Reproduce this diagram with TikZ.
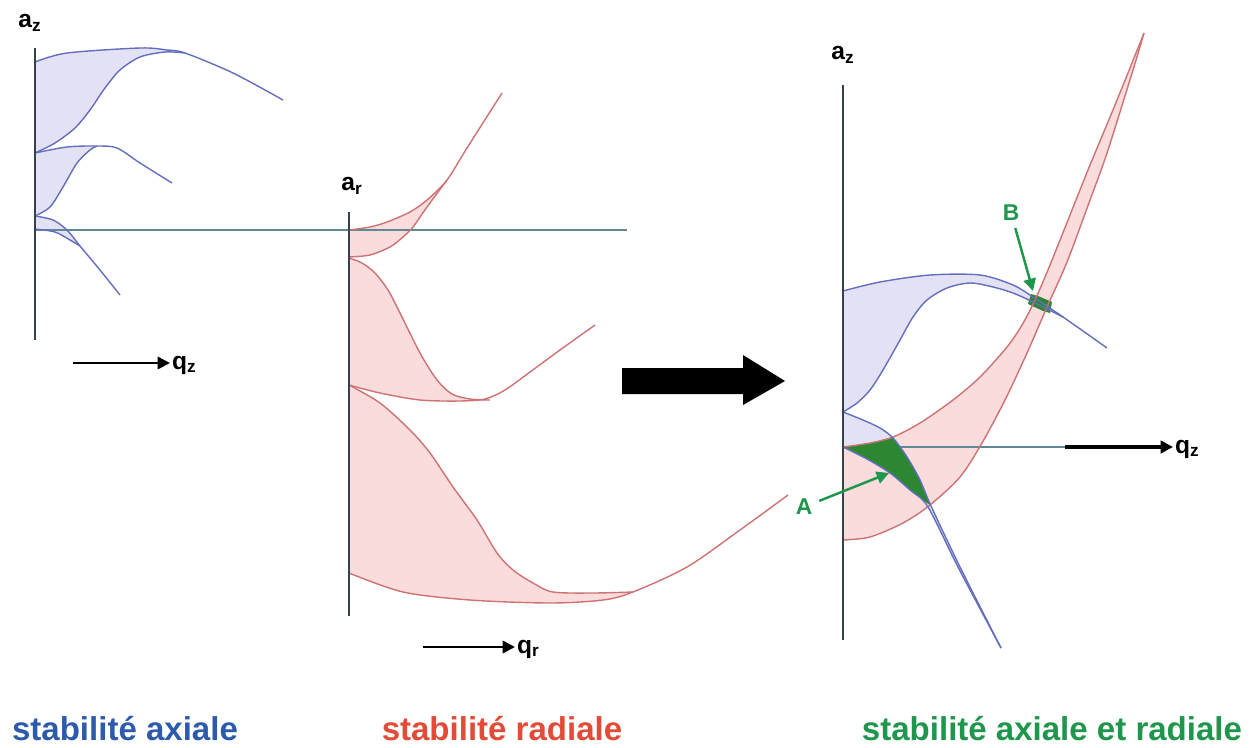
\documentclass[tikz,border=0pt]{standalone}
\usepackage{fontspec}
\setsansfont{Liberation Sans}
\usetikzlibrary{arrows.meta, positioning}
\definecolor{axisgrey}{RGB}{55,65,75}
\definecolor{hline}{RGB}{95,135,150}
\definecolor{axblue}{RGB}{100,110,190}
\definecolor{axbluefill}{RGB}{226,226,244}
\definecolor{radred}{RGB}{205,115,115}
\definecolor{radfill}{RGB}{250,220,220}
\definecolor{bothgreen}{RGB}{45,135,50}
\definecolor{labgreen}{RGB}{30,150,75}
\definecolor{txtblue}{RGB}{45,90,170}
\definecolor{txtred}{RGB}{225,75,55}

\begin{document}
\begin{tikzpicture}[x=0.02cm, y=-0.02cm,
  axisline/.style={draw=axisgrey, line width=1pt},
  zline/.style={draw=hline, line width=0.8pt},
  bcurve/.style={draw=axblue, line width=0.8pt},
  rcurve/.style={draw=radred, line width=0.8pt},
  bfill/.style={fill=axbluefill},
  rfill/.style={fill=radfill},
  bothfill/.style={fill=bothgreen},
  qarrow/.style={-{Triangle[length=7pt,width=7pt]}, line width=1.4pt},
  axlabel/.style={font=\sffamily\bfseries\fontsize{14}{16}\selectfont, inner sep=1pt},
  qlabel/.style={font=\sffamily\bfseries\fontsize{14}{16}\selectfont, inner sep=1pt, anchor=base west},
  caption/.style={font=\sffamily\bfseries\fontsize{18.8}{22}\selectfont, anchor=base},
  ptlabel/.style={text=labgreen, font=\sffamily\bfseries\fontsize{13}{15}\selectfont, inner sep=1pt},
  ptarrow/.style={draw=labgreen, line width=1.4pt, -{Triangle[length=7pt,width=7pt]}, shorten <=3pt}
]
\useasboundingbox (0,0) rectangle (1260,747);

\fill[bfill] plot[smooth] coordinates {(35,62) (67,53) (140,48) (167,50) (185,53)}
  -- plot[smooth] coordinates {(185,53) (165,52) (140,57) (120,70) (105,88) (90,110) (75,128) (55,143) (35,153)} -- cycle;
\fill[bfill] plot[smooth] coordinates {(35,153) (67,147) (97,146)}
  -- plot[smooth] coordinates {(97,146) (90,150) (77,163) (63,187) (50,207) (35,216)} -- cycle;
\fill[bfill] plot[smooth] coordinates {(35,216) (53,220) (67,230) (80,246)}
  -- plot[smooth] coordinates {(80,246) (70,240) (55,232) (35,229)} -- cycle;

\fill[rfill] plot[smooth] coordinates {(349,230) (370,227) (387,222) (410,212) (427,200) (447,180)}
  -- plot[smooth] coordinates {(447,180) (427,207) (413,227) (403,237) (390,247) (370,255) (349,257)} -- cycle;
\fill[rfill] plot[smooth] coordinates {(349,258) (362,263) (375,273) (388,290) (400,313) (420,353) (437,380) (452,394) (470,399) (490,400)}
  -- plot[smooth] coordinates {(490,400) (460,401) (420,400) (380,393) (349,385)} -- cycle;
\fill[rfill] plot[smooth] coordinates {(349,385) (380,403) (410,430) (430,453) (453,487) (477,520) (497,553) (513,570) (533,583) (553,592) (593,593) (633,592)}
  -- plot[smooth] coordinates {(633,592) (603,600) (550,603) (470,600) (403,592) (349,573)} -- cycle;

\fill[bfill] plot[smooth] coordinates {(843,291) (880,282) (930,275) (980,275) (1013,285) (1033,297) (1063,317)}
  -- plot[smooth] coordinates {(1063,317) (1033,302) (1013,293) (993,287) (970,283) (947,288) (927,300) (913,317) (900,340) (883,370) (870,390) (857,403) (843,412)} -- cycle;
\fill[bfill] plot[smooth] coordinates {(843,412) (863,420) (880,428) (893,438) (907,457) (920,480) (931,506) (960,567) (1001,648)}
  -- plot[smooth] coordinates {(1001,648) (958,567) (928,507) (910,490) (890,473) (867,459) (843,447)} -- cycle;
\fill[rfill] plot[smooth] coordinates {(843,447) (870,443) (893,437) (920,423) (953,400) (980,377) (1007,347) (1022,325) (1035,300) (1050,265) (1070,215) (1090,165) (1115,105) (1144,33)}
  -- plot[smooth] coordinates {(1144,33) (1133,70) (1107,153) (1090,200) (1067,262) (1047,307) (1027,353) (1005,400) (982,443) (960,477) (930,505) (903,523) (870,537) (843,540)} -- cycle;

\coordinate (orL) at (35,230);
\coordinate (hEnd) at (627,230);
\draw[zline] (orL) -- (hEnd);
\coordinate (orR) at (843,447);
\coordinate (qzRs) at (1065,447);
\draw[zline] (orR) -- (qzRs);

\fill[bothfill] plot[smooth] coordinates {(843,447) (870,443) (893,437)}
  -- plot[smooth] coordinates {(893,437) (907,457) (920,480) (931,506)}
  -- plot[smooth] coordinates {(931,506) (910,490) (890,473) (867,459) (843,447)} -- cycle;
\fill[bothfill] (1031,294) -- (1038,296) -- (1052,302) -- (1050,313) -- (1043,311) -- (1028,304) -- cycle;

\draw[bcurve] plot[smooth] coordinates {(35,62) (67,53) (140,48) (167,50) (185,53) (233,73) (283,100)};
\draw[bcurve] plot[smooth] coordinates {(35,153) (55,143) (75,128) (90,110) (105,88) (120,70) (140,57) (165,52) (185,53)};
\draw[bcurve] plot[smooth] coordinates {(35,153) (67,147) (97,146) (117,148) (140,163) (172,183)};
\draw[bcurve] plot[smooth] coordinates {(35,216) (50,207) (63,187) (77,163) (90,150) (97,146)};
\draw[bcurve] plot[smooth] coordinates {(35,216) (53,220) (67,230) (80,246) (100,270) (120,295)};
\draw[bcurve] plot[smooth] coordinates {(35,229) (55,232) (70,240) (80,246)};

\draw[rcurve] plot[smooth] coordinates {(349,230) (370,227) (387,222) (410,212) (427,200) (447,180) (467,148) (502,93)};
\draw[rcurve] plot[smooth] coordinates {(349,257) (370,255) (390,247) (403,237) (413,227) (427,207) (447,180)};
\draw[rcurve] plot[smooth] coordinates {(349,258) (362,263) (375,273) (388,290) (400,313) (420,353) (437,380) (452,394) (470,399) (490,400)};
\draw[rcurve] plot[smooth] coordinates {(349,385) (380,393) (420,400) (460,401) (485,399) (505,390) (530,372) (560,350) (595,325)};
\draw[rcurve] plot[smooth] coordinates {(349,385) (380,403) (410,430) (430,453) (453,487) (477,520) (497,553) (513,570) (533,583) (553,592) (593,593) (633,592)};
\draw[rcurve] plot[smooth] coordinates {(349,573) (403,592) (470,600) (550,603) (603,600) (633,592) (687,567) (740,530) (788,495)};

\draw[rcurve] plot[smooth] coordinates {(843,447) (870,443) (893,437) (920,423) (953,400) (980,377) (1007,347) (1022,325) (1035,300) (1050,265) (1070,215) (1090,165) (1115,105) (1144,33)};
\draw[rcurve] plot[smooth] coordinates {(843,540) (870,537) (903,523) (930,505) (960,477) (982,443) (1005,400) (1027,353) (1047,307) (1067,262) (1090,200) (1107,153) (1133,70) (1144,33)};
\draw[bcurve] plot[smooth] coordinates {(843,291) (880,282) (930,275) (980,275) (1013,285) (1033,297) (1063,317) (1107,348)};
\draw[bcurve] plot[smooth] coordinates {(843,412) (857,403) (870,390) (883,370) (900,340) (913,317) (927,300) (947,288) (970,283) (993,287) (1013,293) (1033,302) (1063,317)};
\draw[bcurve] plot[smooth] coordinates {(843,412) (863,420) (880,428) (893,438) (907,457) (920,480) (931,506) (960,567) (1001,648)};
\draw[bcurve] plot[smooth] coordinates {(843,447) (867,459) (890,473) (910,490) (928,507) (958,567) (1001,648)};

\coordinate (azLtop) at (35,48);
\coordinate (azLbot) at (35,340);
\draw[axisline] (azLtop) -- (azLbot);
\coordinate (arTop) at (349,212);
\coordinate (arBot) at (349,616);
\draw[axisline] (arTop) -- (arBot);
\coordinate (azRtop) at (843,85);
\coordinate (azRbot) at (843,640);
\draw[axisline] (azRtop) -- (azRbot);

\node (azL) [axlabel] at (30,23) {a\textsubscript{z}};
\node (ar) [axlabel] at (352,186) {a\textsubscript{r}};
\node (azR) [axlabel] at (843,55) {a\textsubscript{z}};

\coordinate (qzLs) at (73,363);
\node (qzL) [qlabel] at (170,369) {q\textsubscript{z}};
\draw[qarrow] (qzLs) -- (qzLs -| qzL.west);
\coordinate (qrs) at (423,647);
\node (qr) [qlabel] at (515,653) {q\textsubscript{r}};
\draw[qarrow] (qrs) -- (qrs -| qr.west);
\node (qzR) [qlabel] at (1173,453) {q\textsubscript{z}};
\draw[qarrow, line width=2.3pt] (qzRs) -- (qzRs -| qzR.west);

\fill (622,368) -- (743,368) -- (743,355) -- (785,381) -- (743,405) -- (743,394) -- (622,394) -- cycle;

\node (ptB) [ptlabel] at (1011,213) {B};
\coordinate (Btip) at (1033,291);
\draw[ptarrow] (ptB) -- (Btip);
\node (ptA) [ptlabel] at (804,507) {A};
\coordinate (Atip) at (889,473);
\draw[ptarrow] (ptA) -- (Atip);

\node (capAx) [caption, text=txtblue] at (125,740) {stabilité axiale};
\node (capRad) [caption, text=txtred] at (502,740) {stabilité radiale};
\node (capBoth) [caption, text=labgreen] at (1052,740) {stabilité axiale et radiale};
\end{tikzpicture}
\end{document}
